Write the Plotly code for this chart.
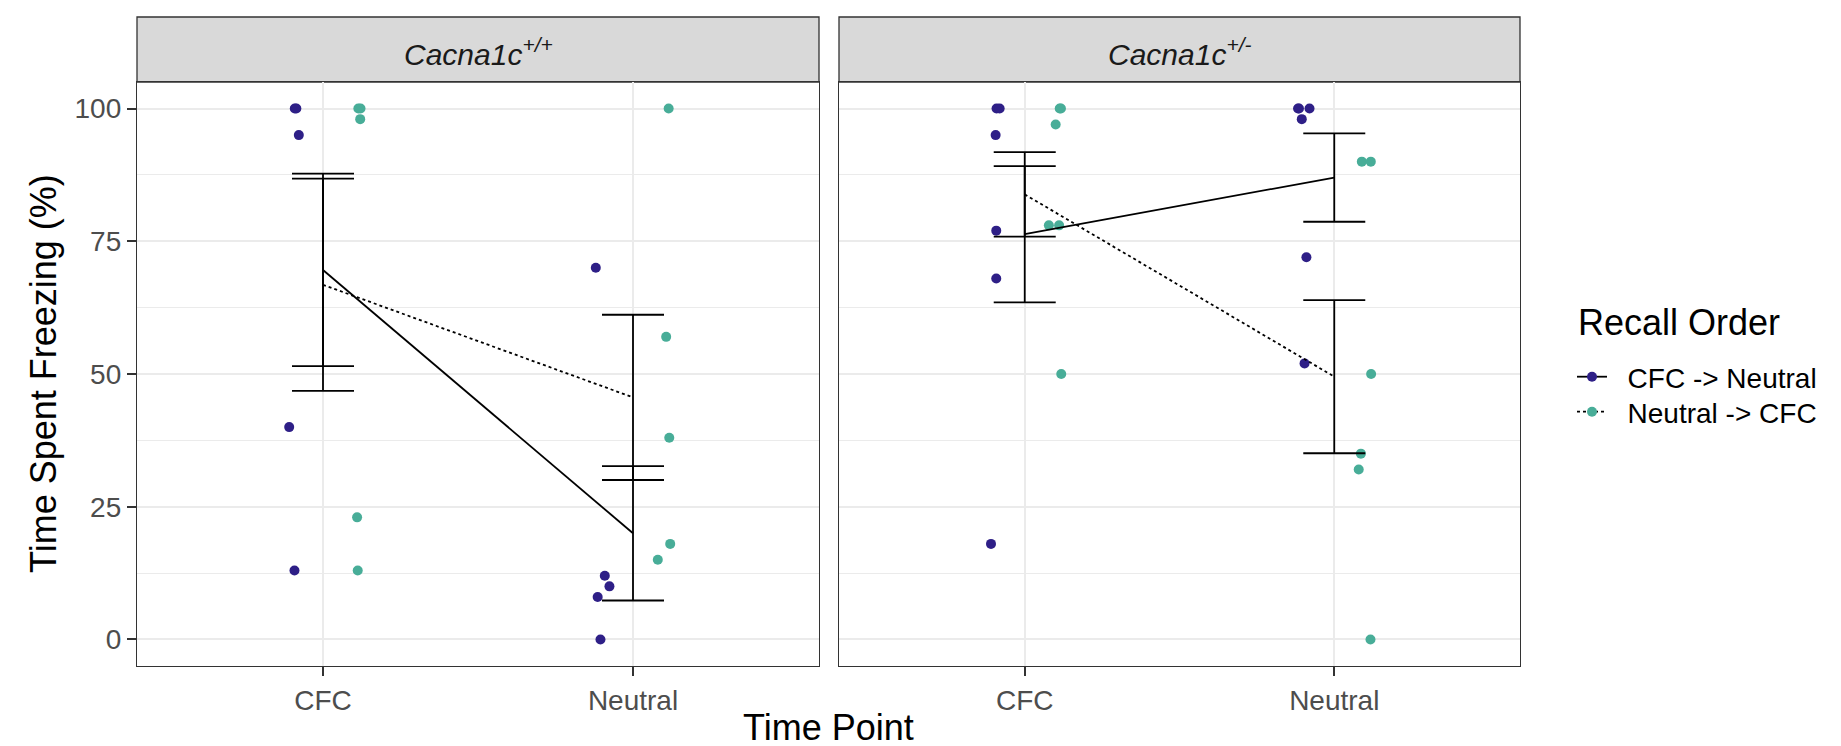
import numpy as np
import plotly.graph_objects as go

# ---------------- data ----------------
timepoints = ["CFC", "Neutral"]
genotype_labels = ["<i>Cacna1c</i><sup><i>+/+</i></sup>", "<i>Cacna1c</i><sup><i>+/-</i></sup>"]
order_labels = ["CFC -> Neutral", "Neutral -> CFC"]
legend_title = "Recall Order"

# Cacna1c +/+ , group CFC -> Neutral
wt_a_cfc = [100, 100, 95, 40, 13]
wt_a_cfc_jit = [-0.091, -0.086, -0.078, -0.109, -0.092]
wt_a_neu = [70, 12, 10, 8, 0]
wt_a_neu_jit = [-0.120, -0.091, -0.076, -0.114, -0.105]
# Cacna1c +/+ , group Neutral -> CFC
wt_b_cfc = [100, 100, 98, 23, 13]
wt_b_cfc_jit = [0.114, 0.121, 0.120, 0.110, 0.112]
wt_b_neu = [100, 57, 38, 18, 15]
wt_b_neu_jit = [0.115, 0.107, 0.117, 0.120, 0.080]

# Cacna1c +/- , group CFC -> Neutral
het_a_cfc = [100, 100, 95, 77, 68, 18]
het_a_cfc_jit = [-0.091, -0.081, -0.094, -0.092, -0.092, -0.109]
het_a_neu = [100, 100, 100, 98, 72, 52]
het_a_neu_jit = [-0.117, -0.114, -0.080, -0.105, -0.090, -0.096]
# Cacna1c +/- , group Neutral -> CFC
het_b_cfc = [100, 100, 97, 78, 78, 50]
het_b_cfc_jit = [0.113, 0.117, 0.100, 0.078, 0.111, 0.118]
het_b_neu = [90, 90, 50, 35, 32, 0]
het_b_neu_jit = [0.089, 0.118, 0.119, 0.086, 0.079, 0.117]

y_ticks = [0, 25, 50, 75, 100]
y_minor = [12.5, 37.5, 62.5, 87.5]

# ---------------- styles ----------------
PURPLE = "#2E1F87"
TEAL = "#48AD98"
FONT = "Liberation Sans, Arial, Helvetica, sans-serif"
W, H = 1841, 746
NB = "\u00a0\u00a0"  # gap between legend key and label

panels = [
    dict(a=(wt_a_cfc, wt_a_cfc_jit, wt_a_neu, wt_a_neu_jit),
         b=(wt_b_cfc, wt_b_cfc_jit, wt_b_neu, wt_b_neu_jit)),
    dict(a=(het_a_cfc, het_a_cfc_jit, het_a_neu, het_a_neu_jit),
         b=(het_b_cfc, het_b_cfc_jit, het_b_neu, het_b_neu_jit)),
]

fig = go.Figure()

def mean_se(v):
    v = np.asarray(v, dtype=float)
    return v.mean(), v.std(ddof=1) / np.sqrt(len(v))

for i, p in enumerate(panels):
    xa = "x" if i == 0 else "x2"
    ya = "y" if i == 0 else "y2"
    for key, color in (("a", PURPLE), ("b", TEAL)):
        cfc, cfc_j, neu, neu_j = p[key]
        xs = [1 + j for j in cfc_j] + [2 + j for j in neu_j]
        ys = list(cfc) + list(neu)
        fig.add_trace(go.Scatter(
            x=xs, y=ys, mode="markers", xaxis=xa, yaxis=ya, showlegend=False,
            marker=dict(size=10, color=color, line=dict(width=0)), hoverinfo="skip"))
    for key, dash in (("a", "solid"), ("b", "3px,3px")):
        cfc, _, neu, _ = p[key]
        m1, s1 = mean_se(cfc)
        m2, s2 = mean_se(neu)
        fig.add_trace(go.Scatter(
            x=[1, 2], y=[m1, m2], mode="markers", xaxis=xa, yaxis=ya, showlegend=False,
            marker=dict(size=1, color="rgba(0,0,0,0)"),
            error_y=dict(type="data", array=[s1, s2], color="black", thickness=1.8, width=31),
            hoverinfo="skip"))
        fig.add_trace(go.Scatter(
            x=[1, 2], y=[m1, m2], mode="lines", xaxis=xa, yaxis=ya, showlegend=False,
            line=dict(color="black", width=1.8, dash=dash), hoverinfo="skip"))

# legend entries (one legend box each, for exact spacing)
for name, color, dash, lg in ((order_labels[0], PURPLE, "solid", "legend"),
                              (order_labels[1], TEAL, "3px,3px", "legend2")):
    fig.add_trace(go.Scatter(
        x=[None], y=[None], mode="lines+markers", name=NB + name, legend=lg,
        line=dict(color="black", width=1.8, dash=dash),
        marker=dict(size=10, color=color)))

y_bot = 1 - 658 / H
y_top = 1 - 74 / H
strip_top = 1 - 9 / H
xdoms = [[129 / W, 811 / W], [831 / W, 1512 / W]]

axis_common = dict(
    showline=True, mirror=True, linecolor="#333333", linewidth=1.3,
    showgrid=True, gridcolor="#EBEBEB", gridwidth=2, zeroline=False,
)
xcommon = dict(axis_common, range=[0.4, 2.6], tickmode="array", tickvals=[1, 2],
               ticktext=timepoints, ticks="outside", ticklen=9, tickwidth=1.6,
               tickcolor="#333333", tickfont=dict(family=FONT, size=28, color="#4D4D4D"))
ycommon = dict(axis_common, range=[-5, 105], tickmode="array", tickvals=y_ticks,
               minor=dict(tickmode="array", tickvals=y_minor,
                          showgrid=True, gridcolor="#EBEBEB", gridwidth=1, ticks=""),
               domain=[y_bot, y_top])

legend_common = dict(x=1564 / W, xanchor="left", yanchor="top",
                     font=dict(family=FONT, size=28, color="black"),
                     bgcolor="rgba(0,0,0,0)")

fig.update_layout(
    width=W, height=H, margin=dict(l=0, r=0, t=0, b=0),
    paper_bgcolor="white", plot_bgcolor="white",
    font=dict(family=FONT, color="black"),
    xaxis=dict(xcommon, domain=xdoms[0], anchor="y"),
    xaxis2=dict(xcommon, domain=xdoms[1], anchor="y2"),
    yaxis=dict(ycommon, anchor="x", ticks="outside", ticklen=9, tickwidth=1.6,
               tickcolor="#333333", tickfont=dict(family=FONT, size=28, color="#4D4D4D")),
    yaxis2=dict(ycommon, anchor="x2", showticklabels=False, ticks=""),
    legend=dict(legend_common, y=1 - 344 / H),
    legend2=dict(legend_common, y=1 - 379 / H),
)

shapes = []
annotations = []
for i, (x0, x1) in enumerate(xdoms):
    shapes.append(dict(type="rect", xref="paper", yref="paper", x0=x0, x1=x1,
                       y0=y_top, y1=strip_top, fillcolor="#D9D9D9",
                       line=dict(color="#333333", width=1.3), layer="below"))
    annotations.append(dict(xref="paper", yref="paper", x=(x0 + x1) / 2, y=1 - 44 / H,
                            text=genotype_labels[i], showarrow=False,
                            font=dict(family=FONT, size=30, color="#1A1A1A"),
                            xanchor="center", yanchor="middle"))
annotations.append(dict(xref="paper", yref="paper", x=35 / W, y=1 - 366 / H,
                        text="Time Spent Freezing (%)", textangle=-90, showarrow=False,
                        font=dict(family=FONT, size=36, color="black"),
                        xanchor="center", yanchor="middle"))
annotations.append(dict(xref="paper", yref="paper", x=(xdoms[0][0] + xdoms[1][1]) / 2,
                        y=4 / H, text="Time Point", showarrow=False,
                        font=dict(family=FONT, size=36, color="black"),
                        xanchor="center", yanchor="bottom"))
annotations.append(dict(xref="paper", yref="paper", x=1568 / W, y=1 - 315 / H,
                        text=legend_title, showarrow=False,
                        font=dict(family=FONT, size=36, color="black"),
                        xanchor="left", yanchor="middle"))
fig.update_layout(shapes=shapes, annotations=annotations)

fig.write_html("out.html")
